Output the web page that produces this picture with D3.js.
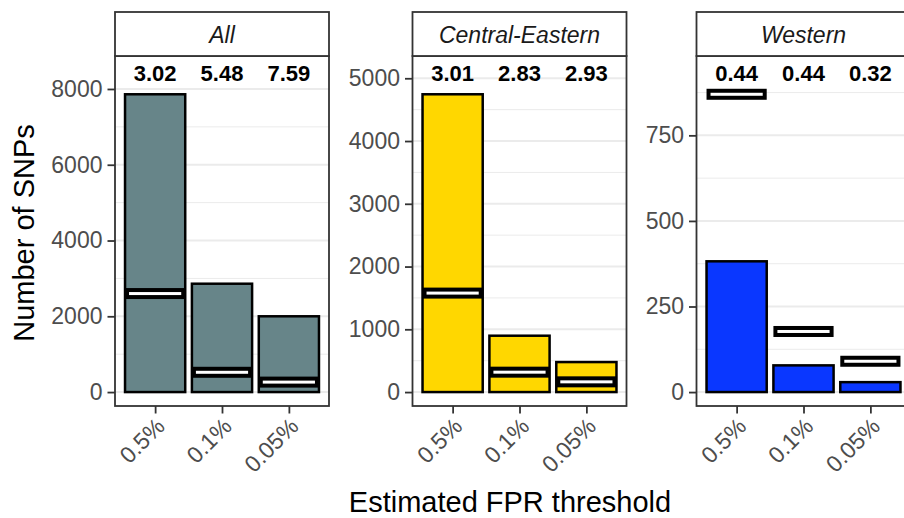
<!DOCTYPE html>
<html>
<head>
<meta charset="utf-8">
<script src="https://cdn.jsdelivr.net/npm/d3@7"></script>
<style>
  html, body { margin: 0; padding: 0; background: #fff; }
  svg { display: block; }
  text { font-family: "Liberation Sans", Arial, Helvetica, sans-serif; }
</style>
</head>
<body>
<svg id="chart" width="904" height="518"></svg>
<script>
// ---- data ----
const categories = ["0.5%", "0.1%", "0.05%"];
const panelNames = ["All", "Central-Eastern", "Western"];
const panelFills = ["#678589", "#FFD700", "#0A37FF"];

const allCounts = [7860, 2860, 2000];
const allExpected = [2600, 522, 263];
const allRatios = ["3.02", "5.48", "7.59"];
const allTicks = [0, 2000, 4000, 6000, 8000];

const ceCounts = [4745, 898, 478];
const ceExpected = [1577, 317, 163];
const ceRatios = ["3.01", "2.83", "2.93"];
const ceTicks = [0, 1000, 2000, 3000, 4000, 5000];

const wCounts = [382, 78, 29];
const wExpected = [870, 177, 90];
const wRatios = ["0.44", "0.44", "0.32"];
const wTicks = [0, 250, 500, 750];

const xTitle = "Estimated FPR threshold";
const yTitle = "Number of SNPs";

const panels = [
  { name: panelNames[0], fill: panelFills[0], counts: allCounts, expected: allExpected, ratios: allRatios, ticks: allTicks },
  { name: panelNames[1], fill: panelFills[1], counts: ceCounts, expected: ceExpected, ratios: ceRatios, ticks: ceTicks },
  { name: panelNames[2], fill: panelFills[2], counts: wCounts, expected: wExpected, ratios: wRatios, ticks: wTicks }
];

// ---- layout ----
const svg = d3.select("#chart");
const panelLefts = [115, 412.5, 696.5];
const panelW = 214;
const stripTop = 12, stripBottom = 56, panelBottom = 406;
const tickLen = 7.5;
const borderCol = "#333333";
const tickTextCol = "#4D4D4D";

panels.forEach((p, i) => {
  const left = panelLefts[i];
  const g = svg.append("g");

  const x = d3.scalePoint().domain(categories).range([left, left + panelW]).padding(0.6);
  const step = x.step();
  const barW = step * 0.9;

  const M = 1.07 * d3.max(p.counts.concat(p.expected));
  const y = d3.scaleLinear().domain([-0.05 * M, 1.05 * M]).range([408, 57.5]);

  // clip
  const clipId = "clip" + i;
  svg.append("clipPath").attr("id", clipId)
    .append("rect").attr("x", left).attr("y", stripBottom).attr("width", panelW).attr("height", panelBottom - stripBottom);

  const plot = g.append("g").attr("clip-path", `url(#${clipId})`);

  // minor grid
  const majors = p.ticks;
  const stepT = majors[1] - majors[0];
  const minors = [];
  for (let v = majors[0] - stepT / 2; v <= 1.05 * M; v += stepT) {
    if (v >= -0.05 * M) minors.push(v);
  }
  plot.selectAll(".minor").data(minors).enter().append("line")
    .attr("x1", left).attr("x2", left + panelW)
    .attr("y1", d => y(d)).attr("y2", d => y(d))
    .attr("stroke", "#EBEBEB").attr("stroke-width", 1);
  plot.selectAll(".major").data(majors).enter().append("line")
    .attr("x1", left).attr("x2", left + panelW)
    .attr("y1", d => y(d)).attr("y2", d => y(d))
    .attr("stroke", "#EBEBEB").attr("stroke-width", 2);

  // bars
  plot.selectAll(".bar").data(categories).enter().append("rect")
    .attr("x", d => x(d) - barW / 2)
    .attr("width", barW)
    .attr("y", (d, j) => y(p.counts[j]))
    .attr("height", (d, j) => y(0) - y(p.counts[j]))
    .attr("fill", p.fill)
    .attr("stroke", "#000").attr("stroke-width", 2.5);

  // expected markers
  const mW = step * 0.84;
  const mH = 7;
  plot.selectAll(".marker").data(categories).enter().append("rect")
    .attr("x", d => x(d) - mW / 2)
    .attr("width", mW)
    .attr("y", (d, j) => y(p.expected[j]) - mH / 2)
    .attr("height", mH)
    .attr("fill", "#fff")
    .attr("stroke", "#000").attr("stroke-width", 4);

  // ratio labels
  plot.selectAll(".ratio").data(categories).enter().append("text")
    .attr("x", d => x(d))
    .attr("y", y(M))
    .attr("dy", "0.36em")
    .attr("text-anchor", "middle")
    .attr("font-size", 22)
    .attr("font-weight", "bold")
    .attr("fill", "#000")
    .text((d, j) => p.ratios[j]);

  // panel border
  g.append("rect").attr("x", left).attr("y", stripBottom)
    .attr("width", panelW).attr("height", panelBottom - stripBottom)
    .attr("fill", "none").attr("stroke", borderCol).attr("stroke-width", 1.8);

  // strip
  g.append("rect").attr("x", left).attr("y", stripTop)
    .attr("width", panelW).attr("height", stripBottom - stripTop)
    .attr("fill", "#fff").attr("stroke", borderCol).attr("stroke-width", 1.8);
  g.append("text")
    .attr("x", left + panelW / 2).attr("y", 42.5)
    .attr("text-anchor", "middle")
    .attr("font-size", 23)
    .attr("font-style", "italic")
    .attr("fill", "#1A1A1A")
    .text(p.name);

  // y axis
  const yAxis = d3.axisLeft(y).tickValues(p.ticks).tickSize(tickLen).tickPadding(5).tickFormat(d3.format("d"));
  const ya = g.append("g").attr("transform", `translate(${left},0)`).call(yAxis);
  ya.select(".domain").remove();
  ya.selectAll(".tick line").attr("stroke", borderCol).attr("stroke-width", 1.8);
  ya.selectAll(".tick text").attr("fill", tickTextCol).attr("font-size", 23)
    .attr("font-family", "'Liberation Sans', Arial, sans-serif");

  // x axis
  const xAxis = d3.axisBottom(x).tickSize(tickLen).tickSizeOuter(0);
  const xa = g.append("g").attr("transform", `translate(0,${panelBottom})`).call(xAxis);
  xa.select(".domain").remove();
  xa.selectAll(".tick line").attr("stroke", borderCol).attr("stroke-width", 1.8);
  xa.selectAll(".tick text")
    .attr("fill", tickTextCol).attr("font-size", 23)
    .attr("font-family", "'Liberation Sans', Arial, sans-serif")
    .attr("text-anchor", "end")
    .attr("x", 0).attr("y", 0).attr("dy", "0.72em")
    .attr("transform", "translate(-1,10) rotate(-45)");
});

// axis titles
svg.append("text")
  .attr("x", 510).attr("y", 512)
  .attr("text-anchor", "middle")
  .attr("font-size", 29)
  .attr("fill", "#000")
  .text(xTitle);

svg.append("text")
  .attr("transform", "translate(34,233) rotate(-90)")
  .attr("text-anchor", "middle")
  .attr("font-size", 29)
  .attr("fill", "#000")
  .text(yTitle);
</script>
</body>
</html>
